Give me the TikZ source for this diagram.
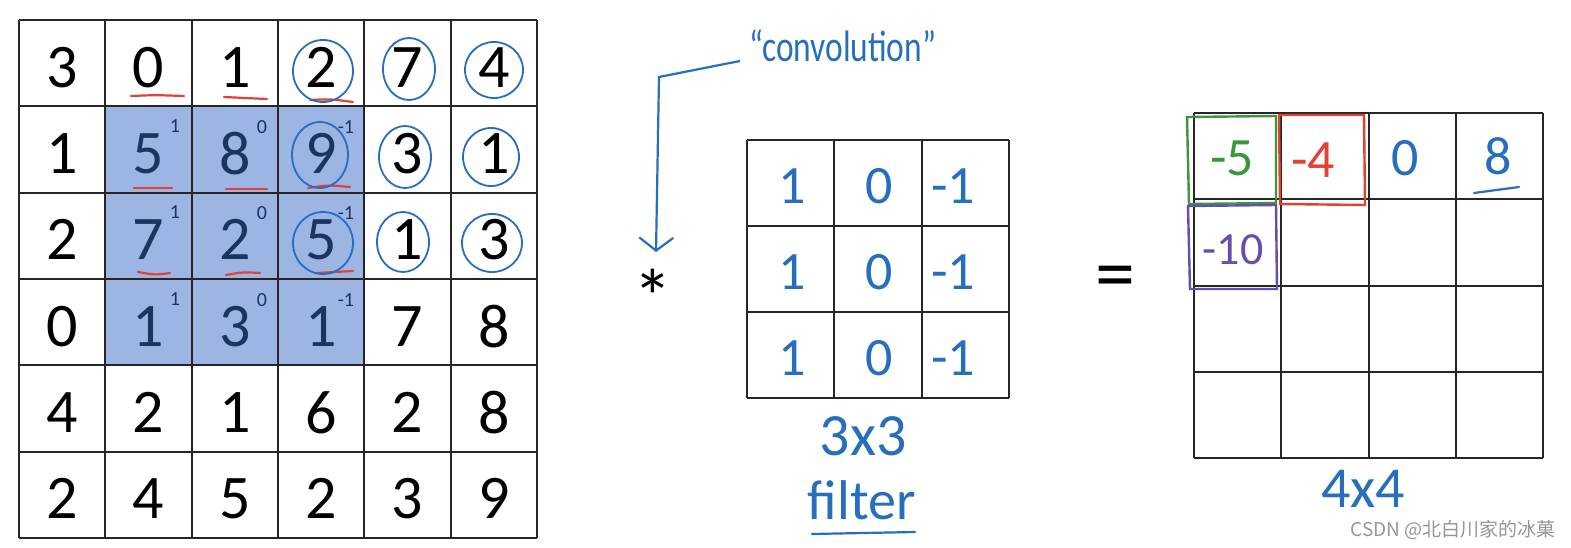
\documentclass[tikz,border=0pt]{standalone}
\usepackage{fontspec}
\setmainfont{Carlito}
\newfontfamily\cjkfont{Noto Sans CJK SC}
\usetikzlibrary{arrows.meta}
\definecolor{shadeblue}{RGB}{157,181,227}
\definecolor{navy}{RGB}{28,52,96}
\definecolor{ink}{RGB}{38,110,190}
\definecolor{redink}{RGB}{228,64,52}
\definecolor{greenink}{RGB}{60,150,60}
\definecolor{purpleink}{RGB}{104,78,172}
\definecolor{wmgray}{RGB}{150,150,150}
\tikzset{
  gridline/.style={line width=2pt, draw=black!85},
  bigdigit/.style={inner sep=0pt, font=\fontsize{62}{62}\selectfont},
  supdigit/.style={inner sep=0pt, font=\fontsize{20}{20}\selectfont, text=navy},
  hand/.style={inner sep=0pt, text=ink, font=\fontsize{54}{54}\selectfont},
  underl/.style={draw=redink, line width=2.2pt, line cap=round},
  circ/.style={draw=ink, line width=1.8pt},
  box/.style={line width=2.4pt}
}
\begin{document}
\begin{tikzpicture}[x=1pt,y=-1pt]
\useasboundingbox (0,0) rectangle (1571,548);
\fill[white] (0,0) rectangle (1571,548);

% ---------- left 6x6 input ----------
\fill[shadeblue] (105.3,106.3) rectangle (364,365);
\foreach \i in {0,...,6}{
  \draw[gridline] ({19+86.33*\i},20) -- ({19+86.33*\i},538);
  \draw[gridline] (19,{20+86.33*\i}) -- (537,{20+86.33*\i});
}
\foreach \row [count=\r from 0] in {{3,0,1,2,7,4},{1,5,8,9,3,1},{2,7,2,5,1,3},{0,1,3,1,7,8},{4,2,1,6,2,8},{2,4,5,2,3,9}}{
  \foreach \v [count=\c from 0] in \row {
    \pgfmathtruncatemacro\inside{(\r>0)&&(\r<4)&&(\c>0)&&(\c<4)}
    \ifnum\inside=1 \def\tc{navy}\else\def\tc{black}\fi
    \node[bigdigit, text=\tc] (L-\r-\c) at ({19+86.33*(\c+0.5)},{20+86.33*(\r+0.5)+4}) {\v};
  }
}
% filter weights on the shaded window
\foreach \r in {1,2,3}{
  \node[supdigit] (w-\r-1) at (175,{126+86.33*(\r-1)}) {1};
  \node[supdigit] (w-\r-2) at (262,{127+86.33*(\r-1)}) {0};
  \node[supdigit] (w-\r-3) at (346,{127+86.33*(\r-1)}) {-1};
}
% red underlines
\draw[underl] (131,96) .. controls (155,95) .. (184,96);
\draw[underl] (224,97) .. controls (245,98) .. (267,99);
\draw[underl] (310,100) .. controls (330,99) .. (353,102);
\draw[underl] (134,188) -- (172,188);
\draw[underl] (226,189) -- (267,189);
\draw[underl] (308,188) .. controls (328,185) .. (350,187);
\draw[underl] (138,272) .. controls (155,275) .. (170,273);
\draw[underl] (226,275) .. controls (243,272) .. (260,273);
\draw[underl] (317,273) .. controls (335,272) .. (353,271);
% blue circles
\draw[circ] (323,71) ellipse [x radius=30, y radius=31];
\draw[circ] (409,69) ellipse [x radius=26, y radius=31];
\draw[circ] (494,70) ellipse [x radius=29, y radius=28];
\draw[circ] (320,155) ellipse [x radius=28, y radius=33];
\draw[circ] (405,157) ellipse [x radius=26, y radius=31];
\draw[circ] (491,157) ellipse [x radius=28, y radius=29];
\draw[circ] (323,243) ellipse [x radius=30, y radius=31];
\draw[circ] (403,242) ellipse [x radius=26, y radius=30];
\draw[circ] (492,243) ellipse [x radius=30, y radius=29];

% ---------- convolution operator ----------
\node[inner sep=0pt, text=ink, font=\fontsize{44}{44}\selectfont] (conv) at (843,46) {\scalebox{0.76}[1]{``convolution''}};
\node[inner sep=0pt, font=\fontsize{78}{78}\selectfont] (star) at (653,297) {*};
\coordinate (c1) at (740,61);
\draw[ink, line width=2.2pt, -{Straight Barb[length=13pt,width=34pt,line width=2.2pt]}]
  (c1) -- (659,77) -- (656,252);

% ---------- 3x3 filter ----------
\foreach \i in {0,...,3}{
  \draw[gridline] ({747+87.33*\i},140) -- ({747+87.33*\i},398);
  \draw[gridline] (747,{140+86*\i}) -- (1009,{140+86*\i});
}
\foreach \r in {0,1,2}{
  \node[hand] (F-\r-0) at (792,{186+86*\r}) {1};
  \node[hand] (F-\r-1) at (879,{186+86*\r}) {0};
  \node[hand] (F-\r-2) at (953,{186+86*\r}) {-1};
}
\node[hand, font=\fontsize{60}{60}\selectfont] (f33) at (863,436) {3x3};
\node[hand, font=\fontsize{56}{56}\selectfont] (filt) at (862,500) {filter};
\draw[ink, line width=2.2pt, line cap=round] (812,534) -- (915,532);

% ---------- equals ----------
\node[inner sep=0pt, font=\fontsize{80}{80}\selectfont] (eq) at (1115,283) {=};

% ---------- 4x4 output ----------
\foreach \i in {0,...,4}{
  \draw[gridline] ({1194+87.25*\i},113) -- ({1194+87.25*\i},458);
  \draw[gridline] (1194,{113+86.25*\i}) -- (1543,{113+86.25*\i});
}
\draw[box, draw=greenink] (1187,117) -- (1276,116) -- (1276,203) -- (1189,204) -- cycle;
\draw[box, draw=redink] (1279,115) -- (1364,115) -- (1365,205) -- (1280,204) -- cycle;
\draw[box, draw=purpleink] (1188,206) -- (1276,205) -- (1277,289) -- (1190,289) -- cycle;
\node[hand, text=greenink] (o00) at (1232,158) {-5};
\node[hand, text=redink] (o01) at (1313,160) {-4};
\node[hand] (o02) at (1405,158) {0};
\node[hand] (o03) at (1498,156) {8};
\draw[ink, line width=2.2pt, line cap=round] (1474,193) -- (1519,187);
\node[hand, text=purpleink, font=\fontsize{46}{46}\selectfont] (o10) at (1233,250) {-10};
\node[hand, font=\fontsize{58}{58}\selectfont] (f44) at (1363,489) {4x4};

% ---------- watermark ----------
\node[inner sep=0pt, anchor=east, text=wmgray, font=\cjkfont\fontsize{19}{19}\selectfont] (wm) at (1556,530) {CSDN @北白川家的冰菓};
\end{tikzpicture}
\end{document}
